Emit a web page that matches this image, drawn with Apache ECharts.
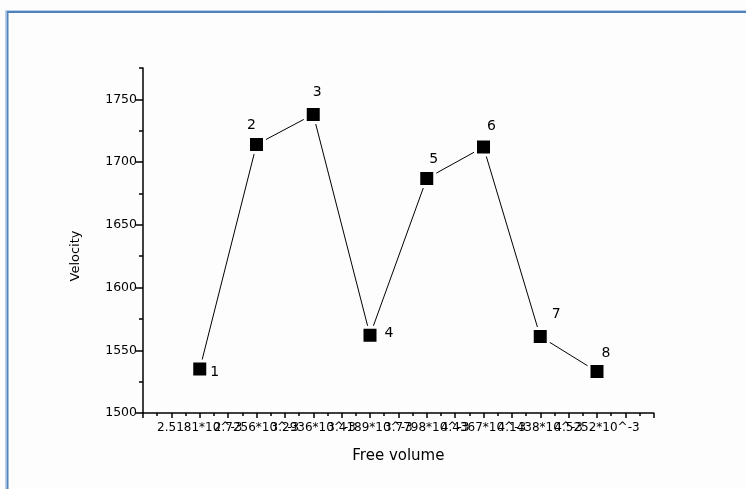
<!DOCTYPE html>
<html>
<head>
<meta charset="utf-8">
<script src="https://cdn.jsdelivr.net/npm/echarts@6/dist/echarts.min.js"></script>
<style>
html,body{margin:0;padding:0;background:#fdfdfd;}
#c{width:746px;height:489px;}
</style>
</head>
<body>
<div id="c"></div>
<script>
// ---- data ----
var pointIndex = [1, 2, 3, 4, 5, 6, 7, 8];
var velocity = [1535, 1714, 1738, 1562, 1687, 1712, 1561, 1533];
var pointNames = ['1', '2', '3', '4', '5', '6', '7', '8'];
var xTickLabels = ['2.5181*10^-3', '2.7256*10^-3', '3.2936*10^-3', '3.4189*10^-3',
                   '3.7798*10^-3', '4.4367*10^-3', '4.1438*10^-3', '4.5252*10^-3'];
var yTickValues = [1500, 1550, 1600, 1650, 1700, 1750];
var yMinorValues = [1525, 1575, 1625, 1675, 1725, 1775];

// label placement (styling)
var labelOffsets = [[15, 3], [-5, -19], [4, -22], [19, -2], [7, -19], [8, -21], [16, -22], [9, -18]];

var FONT = 'DejaVu Sans';
var chart = echarts.init(document.getElementById('c'), null, {renderer: 'canvas'});

var seriesData = pointIndex.map(function (x, i) {
  return {
    value: [x, velocity[i]],
    label: {offset: labelOffsets[i]}
  };
});

var xMajor = [], xMinor = [];
for (var k = 0; k <= 18; k++) { xMajor.push(k * 0.5); }
for (var m = 0; m < 18; m++) { xMinor.push(m * 0.5 + 0.25); }
var oddPoints = pointIndex.filter(function (v) { return v % 2 === 1; });
var evenPoints = pointIndex.filter(function (v) { return v % 2 === 0; });

function labelAxis(values) {
  return {
    type: 'value', min: 0, max: 9, position: 'bottom',
    axisLine: {show: false, onZero: false},
    axisTick: {show: false},
    axisLabel: {
      customValues: values, margin: 9,
      showMinLabel: true, showMaxLabel: true, hideOverlap: false,
      fontFamily: FONT, fontSize: 12, color: '#000',
      formatter: function (v) { var i = Math.round(v) - 1; return xTickLabels[i] || ''; }
    },
    splitLine: {show: false}
  };
}

chart.setOption({
  backgroundColor: '#fdfdfd',
  animation: false,
  graphic: [
    {type: 'rect', shape: {x: 5.5, y: 10.5, width: 800, height: 600}, style: {fill: 'none', stroke: '#b8cfe8', lineWidth: 1}, z: 0},
    {type: 'rect', shape: {x: 7.5, y: 12, width: 800, height: 600}, style: {fill: 'none', stroke: '#4f81bd', lineWidth: 2}, z: 0},
    {type: 'text', x: 76, y: 256, rotation: Math.PI / 2,
     style: {text: 'Velocity', font: '13px "DejaVu Sans"', fill: '#000', align: 'center', verticalAlign: 'middle'}}
  ],
  grid: {left: 143, top: 68, width: 510.75, height: 345, containLabel: false},
  xAxis: [{
    type: 'value', min: 0, max: 9,
    name: 'Free volume', nameLocation: 'middle', nameGap: 36,
    nameTextStyle: {fontFamily: FONT, fontSize: 15, color: '#000'},
    axisLine: {onZero: false, lineStyle: {color: '#000', width: 1.5}},
    axisTick: {show: true, customValues: xMajor, length: 5, inside: false, lineStyle: {color: '#000', width: 1.5}},
    axisLabel: {show: false},
    splitLine: {show: false}
  }, {
    type: 'value', min: 0, max: 9, position: 'bottom',
    axisLine: {show: false, onZero: false},
    axisTick: {show: true, customValues: xMinor, length: 3, lineStyle: {color: '#000', width: 1.5}},
    axisLabel: {show: false},
    splitLine: {show: false}
  }, labelAxis(oddPoints), labelAxis(evenPoints)],
  yAxis: [{
    type: 'value', min: 1500, max: 1775, position: 'left',
    axisLine: {show: true, onZero: false, lineStyle: {color: '#000', width: 1.5}},
    axisTick: {show: true, customValues: yTickValues, length: 7, lineStyle: {color: '#000', width: 1.5}},
    axisLabel: {customValues: yTickValues, margin: 6, fontFamily: FONT, fontSize: 12.5, color: '#000',
      showMinLabel: true, showMaxLabel: true,
      formatter: function (v) { return String(v); }},
    splitLine: {show: false}
  }, {
    type: 'value', min: 1500, max: 1775, position: 'left', offset: 0,
    axisLine: {show: false, onZero: false},
    axisTick: {show: true, customValues: yMinorValues, length: 4, lineStyle: {color: '#000', width: 1.5}},
    axisLabel: {show: false},
    splitLine: {show: false}
  }],
  series: [{
    type: 'line',
    xAxisIndex: 0, yAxisIndex: 0,
    data: seriesData,
    symbol: 'rect', symbolSize: 16,
    lineStyle: {color: '#000', width: 1},
    itemStyle: {color: '#000', borderColor: '#fdfdfd', borderWidth: 3},
    label: {
      show: true, position: 'inside',
      formatter: function (p) { return pointNames[p.dataIndex]; },
      fontFamily: FONT, fontSize: 14, color: '#000'
    },
    emphasis: {disabled: true},
    z: 3
  }]
});
</script>
</body>
</html>
